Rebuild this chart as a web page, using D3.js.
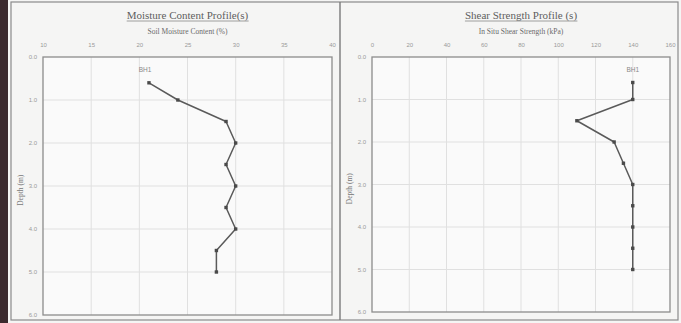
<!DOCTYPE html>
<html>
<head>
<meta charset="utf-8">
<script src="https://cdn.jsdelivr.net/npm/d3@7"></script>
<style>
  body { margin: 0; background: #f5f5f4; }
  svg { display: block; }
</style>
</head>
<body>
<svg width="681" height="323"></svg>
<script>
// depths (m) where samples were taken
const depths = [0.6, 1.0, 1.5, 2.0, 2.5, 3.0, 3.5, 4.0, 4.5, 5.0];
const moisture = [21, 24, 29, 30, 29, 30, 29, 30, 28, 28];
const shear = [140, 140, 110, 130, 135, 140, 140, 140, 140, 140];
const depthTicks = [0, 1, 2, 3, 4, 5, 6];
const moistureTicks = [10, 15, 20, 25, 30, 35, 40];
const shearTicks = [0, 20, 40, 60, 80, 100, 120, 140, 160];
const seriesName = 'BH1';

const svg = d3.select('svg');

// dark scan edge on the left
svg.append('rect').attr('x', 0).attr('y', 0).attr('width', 8).attr('height', 323).attr('fill', '#3b2a2e');

// outer frame and divider
svg.append('rect').attr('x', 11).attr('y', 2).attr('width', 667).attr('height', 318)
  .attr('fill', 'none').attr('stroke', '#8a8a8a').attr('stroke-width', 1.2);
svg.append('line').attr('x1', 340).attr('x2', 340).attr('y1', 2).attr('y2', 320)
  .attr('stroke', '#7a7a7a').attr('stroke-width', 1.4);

function panel(opt) {
  const x = d3.scaleLinear().domain(opt.xDomain).range([opt.left, opt.right]);
  const y = d3.scaleLinear().domain([0, 6]).range([opt.top, opt.bottom]);
  const g = svg.append('g');

  g.append('rect').attr('x', opt.left).attr('y', opt.top)
    .attr('width', opt.right - opt.left).attr('height', opt.bottom - opt.top)
    .attr('fill', '#fafafa');

  // grid
  g.selectAll('.vg').data(opt.xTicks.slice(1, -1)).join('line')
    .attr('x1', d => x(d)).attr('x2', d => x(d))
    .attr('y1', opt.top).attr('y2', opt.bottom)
    .attr('stroke', '#e0e0e0').attr('stroke-width', 1);
  g.selectAll('.hg').data(depthTicks.slice(1, -1)).join('line')
    .attr('x1', opt.left).attr('x2', opt.right)
    .attr('y1', d => y(d)).attr('y2', d => y(d))
    .attr('stroke', '#e0e0e0').attr('stroke-width', 1);

  // frame
  g.append('rect').attr('x', opt.left).attr('y', opt.top)
    .attr('width', opt.right - opt.left).attr('height', opt.bottom - opt.top)
    .attr('fill', 'none').attr('stroke', '#8c8c8c').attr('stroke-width', 1.3);

  // axes
  const xAxis = g.append('g').attr('transform', 'translate(0,' + (opt.top - 10) + ')')
    .call(d3.axisTop(x).tickValues(opt.xTicks).tickSize(0).tickPadding(0));
  const yAxis = g.append('g').attr('transform', 'translate(' + (opt.left - 6) + ',0)')
    .call(d3.axisLeft(y).tickValues(depthTicks).tickSize(0).tickPadding(0).tickFormat(d3.format('.1f')));
  [xAxis, yAxis].forEach(a => {
    a.select('.domain').remove();
    a.selectAll('text').attr('font-family', 'Liberation Sans, Arial, sans-serif')
      .attr('font-size', 6).attr('fill', '#9a9a9a');
  });

  // titles
  const cx = (opt.left + opt.right) / 2;
  const t = g.append('text').attr('x', cx).attr('y', 19).attr('text-anchor', 'middle')
    .attr('font-family', 'Liberation Serif, Times New Roman, serif').attr('font-size', 11)
    .attr('fill', '#5e5e5e').text(opt.title);
  const bb = t.node().getBBox();
  g.append('line').attr('x1', bb.x).attr('x2', bb.x + bb.width)
    .attr('y1', 21).attr('y2', 21).attr('stroke', '#888').attr('stroke-width', 0.8);
  g.append('text').attr('x', cx).attr('y', 34).attr('text-anchor', 'middle')
    .attr('font-family', 'Liberation Serif, Times New Roman, serif').attr('font-size', 7.5)
    .attr('fill', '#6a6a6a').text(opt.subtitle);
  g.append('text').attr('transform', 'translate(' + (opt.left - 20) + ',' + y(3.1) + ') rotate(-90)')
    .attr('text-anchor', 'middle')
    .attr('font-family', 'Liberation Serif, Times New Roman, serif').attr('font-size', 7.5)
    .attr('fill', '#777').text('Depth (m)');

  // series
  const pts = depths.map((d, i) => [opt.values[i], d]);
  g.append('path').datum(pts)
    .attr('fill', 'none').attr('stroke', '#5a5a5a').attr('stroke-width', 1.5)
    .attr('stroke-linejoin', 'round')
    .attr('d', d3.line().x(d => x(d[0])).y(d => y(d[1])));
  g.selectAll('.pt').data(pts).join('rect')
    .attr('x', d => x(d[0]) - 1.7).attr('y', d => y(d[1]) - 1.7)
    .attr('width', 3.4).attr('height', 3.4).attr('fill', '#4a4a4a');
  g.append('text').attr('x', x(pts[0][0]) + opt.labelDx).attr('y', y(pts[0][1]) - 11)
    .attr('text-anchor', 'middle')
    .attr('font-family', 'Liberation Sans, Arial, sans-serif').attr('font-size', 6.5)
    .attr('fill', '#888').text(seriesName);
}

panel({
  left: 43, right: 332, top: 57, bottom: 315,
  xDomain: [10, 40], xTicks: moistureTicks, values: moisture,
  title: 'Moisture Content Profile(s)', subtitle: 'Soil Moisture Content (%)', labelDx: -4
});
panel({
  left: 372, right: 670, top: 57, bottom: 312,
  xDomain: [0, 160], xTicks: shearTicks, values: shear,
  title: 'Shear Strength Profile (s)', subtitle: 'In Situ Shear Strength (kPa)', labelDx: 0
});
</script>
</body>
</html>
